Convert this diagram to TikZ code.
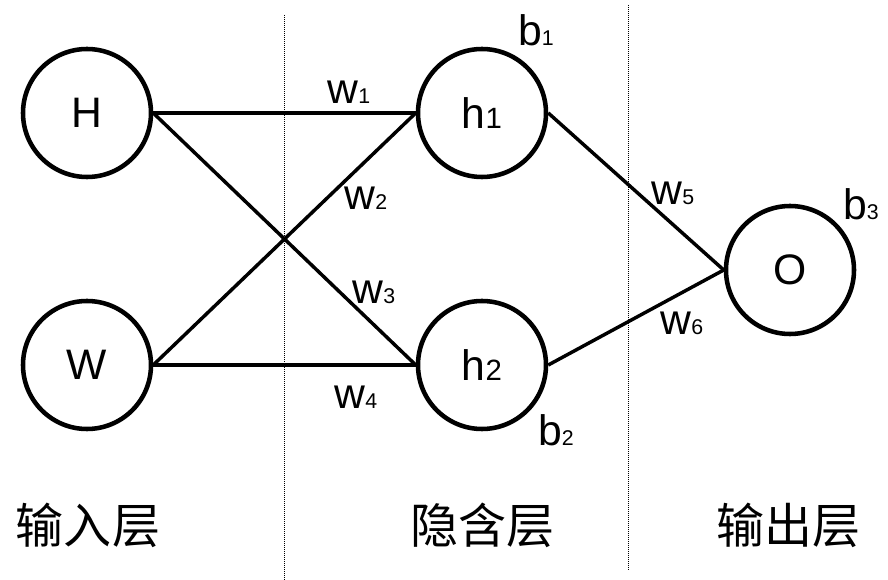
\documentclass[tikz,border=0pt]{standalone}
\usepackage{fontspec}
\setmainfont{Liberation Sans}
\newfontfamily\cjk{Noto Sans CJK SC}
\usepackage{tikz}
\usetikzlibrary{positioning}

\newcommand{\wsub}[2]{#1{\fontsize{16}{16}\selectfont #2}}
\newcommand{\hsub}[2]{#1{\fontsize{22}{22}\selectfont #2}}

\begin{document}
\begin{tikzpicture}[
  x=0.75pt,y=-0.75pt,
  font=\fontsize{32}{36}\selectfont,
  neuron/.style={circle,draw,line width=3.4pt,minimum size=96pt,inner sep=0pt},
  conn/.style={line width=2.6pt},
  sep/.style={line width=0.6pt,dash pattern=on 0.6pt off 0.9pt},
  wlab/.style={inner sep=0pt},
  layer/.style={font=\cjk\fontsize{36}{40}\selectfont,inner sep=0pt}
]
\useasboundingbox (0,0) rectangle (888,580);

% layer separators
\draw[sep] (284,15) -- (284,580);
\draw[sep] (628,5) -- (628,570);

\node[neuron] (H)  at (87,113)  {H};
\node[neuron] (W)  at (87,365)  {W};
\node[neuron] (h1) at (482,113) {\hsub{h}{1}};
\node[neuron] (h2) at (482,365) {\hsub{h}{2}};
\node[neuron] (O)  at (790,270) {O};

\draw[conn] (H.east) -- (h1.west);
\draw[conn] (H.east) -- (h2.west);
\draw[conn] (W.east) -- (h1.west);
\draw[conn] (W.east) -- (h2.west);
\draw[conn] (h1.east) -- (O.west);
\draw[conn] (h2.east) -- (O.west);

\node[wlab] (w1) at (349,92)  {\wsub{w}{1}};
\node[wlab] (w2) at (366,198) {\wsub{w}{2}};
\node[wlab] (w3) at (374,292) {\wsub{w}{3}};
\node[wlab] (w4) at (356,397) {\wsub{w}{4}};
\node[wlab] (w5) at (673,193) {\wsub{w}{5}};
\node[wlab] (w6) at (682,323) {\wsub{w}{6}};

\node[wlab] (b1) at (536,30)  {\wsub{b}{1}};
\node[wlab] (b2) at (556,430) {\wsub{b}{2}};
\node[wlab] (b3) at (861,204) {\wsub{b}{3}};

\node[layer] (lin)  at (88,525)  {输入层};
\node[layer] (lhid) at (482,525) {隐含层};
\node[layer] (lout) at (788,525) {输出层};
\end{tikzpicture}
\end{document}
